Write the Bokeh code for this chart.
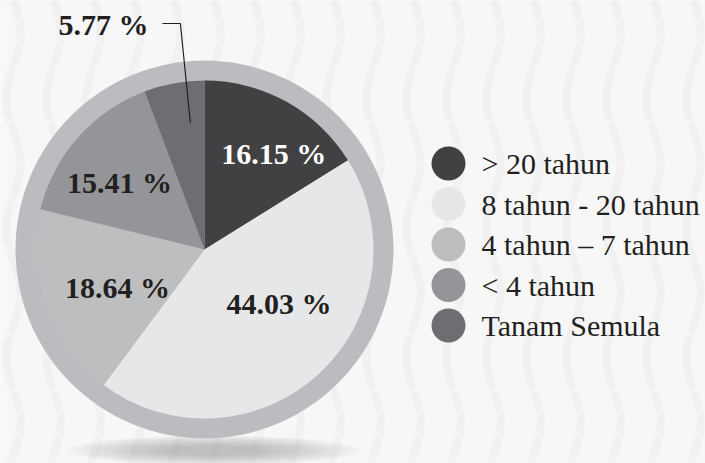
import numpy as np
from bokeh.plotting import figure
from bokeh.models import Range1d, ColumnDataSource
from bokeh.core.properties import value
from bokeh.embed import file_html
from bokeh.resources import INLINE

# ---- data ----
categories = ["> 20 tahun", "8 tahun - 20 tahun", "4 tahun \u2013 7 tahun", "< 4 tahun", "Tanam Semula"]
percent = [16.15, 44.03, 18.64, 15.41, 5.77]
colors = ["#414042", "#e6e7e8", "#bcbec0", "#939598", "#6d6e71"]
label_colors = ["#ffffff", "#231f20", "#231f20", "#231f20", "#231f20"]

# ---- layout helpers (screen coords of reference -> data coords) ----
W, H = 705, 463
def Y(s):
    return H - s

p = figure(width=W, height=H, x_range=Range1d(0, W), y_range=Range1d(0, H),
           output_backend="svg", toolbar_location=None, min_border=0,
           x_axis_type=None, y_axis_type=None,
           background_fill_color="#f7f7f7", border_fill_color="#f7f7f7",
           outline_line_color=None)
p.grid.visible = False

# decorative wavy background (very faint)
ys = np.linspace(0, 470, 200)
xs_list, ys_list = [], []
for x0 in range(-27, 740, 40):
    xs_list.append(list(x0 + 7 * np.sin(ys / 130.0 * 2 * np.pi)))
    ys_list.append(list(Y(ys)))
p.multi_line(xs_list, ys_list, line_color="#f1f1f1", line_width=8)

cx, cy = 204, Y(249)
r_in, r_ring = 169, 189

# shadow
for k in range(12):
    f = 1 - k * 0.06
    p.ellipse(x=213, y=Y(450), width=290 * f, height=30 * f,
              fill_color="#808080", fill_alpha=0.05, line_color=None)

# ring
p.circle(x=cx, y=cy, radius=r_ring, fill_color="#bbbcbf", line_color=None)

# wedges
frac = np.array(percent) / sum(percent)
cum = np.concatenate([[0], np.cumsum(frac)])
start = np.pi / 2 - 2 * np.pi * cum[:-1]
end = np.pi / 2 - 2 * np.pi * cum[1:]
src = ColumnDataSource(dict(start=start, end=end, color=colors))
p.wedge(x=cx, y=cy, radius=r_in, start_angle="start", end_angle="end",
        direction="clock", fill_color="color", line_color=None, source=src)

# labels inside slices
mid = (start + end) / 2
lab_r = [118, 92, 95, 108]
lab_nudge = [-0.12, 0.2, 0.07, 0.06]
for i in range(4):
    a = mid[i] + lab_nudge[i]
    p.text(x=[cx + lab_r[i] * np.cos(a)], y=[cy + lab_r[i] * np.sin(a)],
           text=[f"{percent[i]:.2f} %"], text_align="center", text_baseline="middle",
           text_font=value("Liberation Serif"), text_font_style="bold",
           text_font_size="30px", text_color=label_colors[i])

# leader for last slice
a5 = mid[4] - 0.07
px, py = cx + 127 * np.cos(a5), cy + 127 * np.sin(a5)
p.line(x=[px, px - 10, px - 28], y=[py, Y(23), Y(23)], line_color="#231f20", line_width=1.2)
p.text(x=[px - 42], y=[Y(24)], text=[f"{percent[4]:.2f} %"], text_align="right",
       text_baseline="middle", text_font=value("Liberation Serif"), text_font_style="bold",
       text_font_size="30px", text_color="#231f20")

# legend
leg_y = [Y(163 + 40.5 * i) for i in range(len(categories))]
p.scatter(x=[448] * len(categories), y=leg_y, size=34, marker="circle",
          fill_color=colors, line_color=None)
p.text(x=[481] * len(categories), y=leg_y, text=categories, text_baseline="middle",
       text_font=value("Liberation Serif"), text_font_size="30px", text_color="#231f20")

open("out.html", "w").write(file_html(p, INLINE))
